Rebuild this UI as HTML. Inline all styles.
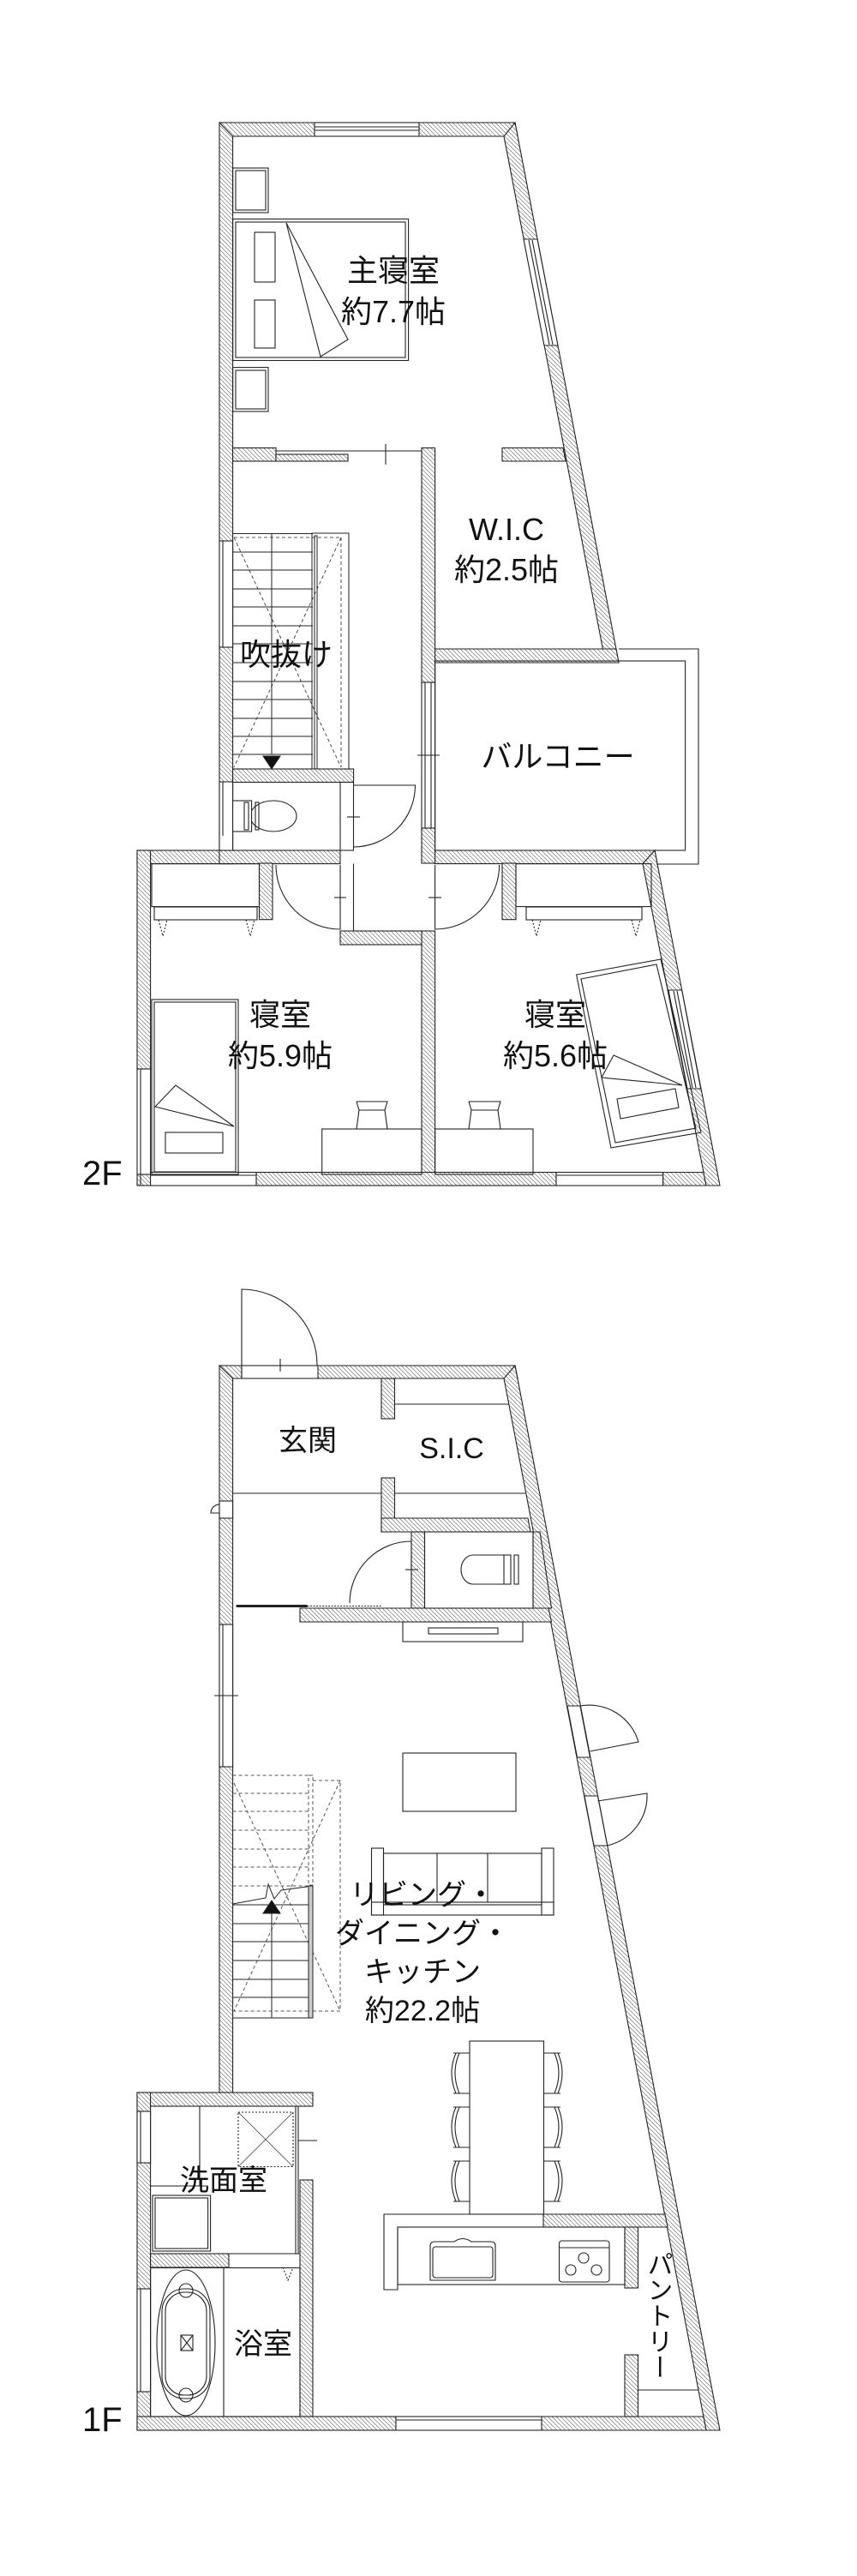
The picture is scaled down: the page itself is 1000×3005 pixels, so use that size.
<!DOCTYPE html>
<html><head><meta charset="utf-8"><style>
html,body{margin:0;padding:0;background:#fff}
svg{display:block}
text{font-family:"Liberation Sans","Noto Sans CJK JP",sans-serif;fill:#111}
</style></head><body>
<svg width="1000" height="3005" viewBox="0 0 1000 3005" xmlns="http://www.w3.org/2000/svg">
<defs>
<pattern id="h" patternUnits="userSpaceOnUse" width="5" height="5">
<rect width="5" height="5" fill="#fff"/>
<path d="M-1,-1 L6,6 M-1,4 L1,6 M4,-1 L6,1" stroke="#777" stroke-width="0.7"/>
</pattern>
</defs>
<g stroke="#222" stroke-width="1.1" fill="none">

<!-- ================= 2F ================= -->
<g fill="url(#h)">
<rect x="256" y="143" width="15.6" height="864"/>
<polygon points="256,143 601,143 604,159 271.6,159"/>
<polygon points="601,143 722,773 706.5,773 588,159"/>
<rect x="271.6" y="522.5" width="50.4" height="15.5"/>
<rect x="322" y="530" width="84" height="8"/>
<polygon points="586,522.5 657,522.5 660,538 586,538"/>
<rect x="492" y="522.5" width="15.6" height="273.5"/>
<rect x="492" y="966" width="15.6" height="41"/>
<rect x="492" y="1086" width="15.6" height="284"/>
<polygon points="507.6,757 719,757 722,773 507.6,773"/>
<rect x="271.6" y="897" width="141" height="15.5"/>
<rect x="160" y="992" width="112" height="15.6"/>
<rect x="256" y="992" width="141" height="15.6"/>
<rect x="302.5" y="1007" width="15.5" height="65.7"/>
<polygon points="507.6,992 764,992 767,1007.6 507.6,1007.6"/>
<rect x="586" y="1007" width="16" height="65.7"/>
<rect x="397" y="1086" width="95" height="16"/>
<rect x="160" y="992" width="15.6" height="255"/>
<rect x="160" y="1370" width="15.6" height="13"/>
<rect x="299" y="1367.5" width="350" height="15.5"/>
<polygon points="773.6,1367.5 821,1367.5 824,1383 773.6,1383"/>
<polygon points="764,992 840,1383 824,1383 750,1007.6"/>
</g>
<!-- windows 2F -->
<rect x="367" y="143" width="122" height="16" fill="#fff"/>
<line x1="367" y1="148" x2="489" y2="148"/><line x1="367" y1="152" x2="489" y2="152"/>
<polygon points="611,279 627,279 651,403 635,403" fill="#fff"/>
<line x1="617" y1="280" x2="641" y2="402"/><line x1="621" y1="280" x2="645" y2="402"/>
<rect x="256" y="631" width="15.6" height="124" fill="#fff"/>
<line x1="260" y1="631" x2="260" y2="755"/>
<rect x="256" y="912" width="15.6" height="80" fill="#fff"/>
<line x1="260" y1="912" x2="260" y2="975"/>
<rect x="492" y="796" width="15.6" height="170" fill="#fff"/>
<line x1="496" y1="796" x2="496" y2="966"/><line x1="503" y1="796" x2="503" y2="966"/>
<line x1="487" y1="881" x2="513" y2="881"/>
<rect x="160" y="1247" width="15.6" height="123" fill="#fff"/>
<line x1="164" y1="1247" x2="164" y2="1383"/>
<rect x="175.6" y="1367.5" width="123.4" height="15.5" fill="#fff"/>
<line x1="175.6" y1="1371" x2="299" y2="1371"/>
<rect x="649" y="1367.5" width="124.6" height="15.5" fill="#fff"/>
<line x1="649" y1="1371" x2="773.6" y2="1371"/>
<polygon points="780,1155 795.6,1155 817.7,1270 802,1270" fill="#fff"/>
<line x1="786" y1="1156" x2="808" y2="1269"/><line x1="790" y1="1156" x2="812" y2="1269"/>
<!-- master sliding door -->
<line x1="322" y1="526" x2="492" y2="526"/>
<line x1="322" y1="530" x2="406" y2="530" stroke-dasharray="3,2"/>
<line x1="450" y1="518" x2="450" y2="542"/>
<!-- furniture master -->
<rect x="271.6" y="196" width="41.4" height="52"/><rect x="275" y="199" width="35" height="46"/>
<rect x="271.6" y="428.6" width="41.4" height="51.4"/><rect x="275" y="432" width="35" height="45"/>
<rect x="271.6" y="255.5" width="205" height="165"/><rect x="275" y="259" width="198" height="158"/>
<rect x="297" y="271" width="24" height="58"/><rect x="297" y="350" width="24" height="56"/>
<polygon points="334,260 374,416 406,396"/>
<!-- stair 2F -->
<g stroke-width="1">
<line x1="271.6" y1="622.5" x2="365" y2="622.5"/>
<line x1="271.6" y1="644" x2="365" y2="644"/><line x1="271.6" y1="665" x2="365" y2="665"/>
<line x1="271.6" y1="687" x2="365" y2="687"/><line x1="271.6" y1="708" x2="365" y2="708"/>
<line x1="271.6" y1="730" x2="365" y2="730"/><line x1="271.6" y1="751" x2="365" y2="751"/>
<line x1="271.6" y1="773" x2="365" y2="773"/><line x1="271.6" y1="795" x2="365" y2="795"/>
<line x1="271.6" y1="816" x2="365" y2="816"/><line x1="271.6" y1="838" x2="365" y2="838"/>
<line x1="271.6" y1="859" x2="365" y2="859"/><line x1="271.6" y1="880" x2="365" y2="880"/>
<rect x="364" y="622" width="43" height="275"/><rect x="367" y="625" width="3" height="272"/>
<line x1="317" y1="622.5" x2="317" y2="880"/>
<polygon points="307,882 327,882 317,897" fill="#111"/>
<g stroke-dasharray="4,3" stroke-width="0.8">
<line x1="273" y1="627" x2="398" y2="627"/><line x1="398" y1="627" x2="398" y2="895"/>
<line x1="273" y1="627" x2="398" y2="895"/><line x1="398" y1="627" x2="273" y2="895"/>
</g>
</g>
<!-- toilet 2F -->
<rect x="397" y="912.5" width="15.5" height="79.5"/>
<ellipse cx="319" cy="952" rx="27" ry="18"/>
<rect x="271.6" y="934" width="22" height="36" fill="#fff"/>
<rect x="285" y="936" width="5" height="32"/><rect x="298" y="936" width="4" height="32"/>
<path d="M412.5,916 L484.5,916 A72,72 0 0 1 412.5,988"/>
<line x1="405" y1="953" x2="420" y2="953"/>
<!-- bedroom doors -->
<path d="M397,1009 L397,1084 A75,75 0 0 1 322,1009"/>
<line x1="390" y1="1047" x2="404" y2="1047"/>
<path d="M507.6,1009 L507.6,1084 A75,75 0 0 0 582.6,1009"/>
<line x1="500" y1="1047" x2="515" y2="1047"/>
<line x1="412.5" y1="1007.6" x2="412.5" y2="1086"/>
<!-- closets -->
<rect x="177" y="1007.6" width="125.5" height="50"/><rect x="180" y="1058" width="120" height="15"/>
<path d="M185,1073 L190,1092 L195,1073 M287,1073 L292,1092 L297,1073" stroke-dasharray="2,2"/>
<rect x="602" y="1007.6" width="158" height="50"/><rect x="614" y="1058" width="135" height="15"/>
<path d="M621,1073 L626,1092 L631,1073 M737,1073 L742,1092 L747,1073" stroke-dasharray="2,2"/>
<!-- beds -->
<rect x="177" y="1166" width="101" height="204"/><rect x="180" y="1169" width="95" height="198"/>
<polygon points="181,1291 205,1266 273,1314"/>
<rect x="193" y="1321" width="67" height="24"/>
<polygon points="672.6,1137 771,1119 818,1321 713,1339"/>
<polygon points="678,1142 766,1125 812,1316 718,1333"/>
<polygon points="702,1257 716,1231 796,1266"/>
<polygon points="720,1282 788,1270 792,1292 724,1305"/>
<!-- desks -->
<rect x="375.7" y="1317" width="116.3" height="53"/>
<path d="M416,1285 L452,1285 L449,1295 L452,1317 M416,1285 L419,1295 L416,1317 M419,1295 L449,1295"/>
<rect x="507.6" y="1317" width="114.4" height="53"/>
<path d="M547,1285 L584,1285 L581,1295 L584,1317 M547,1285 L550,1295 L547,1317 M550,1295 L581,1295"/>
<!-- balcony -->
<rect x="507.6" y="771" width="292" height="221"/>
<polyline points="722,757 815,757 815,1008 766,1008"/>
</g>
<g font-size="36" text-anchor="middle">
<text x="459" y="328">主寝室</text>
<text x="459" y="376">約7.7帖</text>
<text x="591" y="630">W.I.C</text>
<text x="591" y="677">約2.5帖</text>
<text x="334" y="776">吹抜け</text>
<text x="651" y="895">バルコニー</text>
<text x="327" y="1196">寝室</text>
<text x="327" y="1244">約5.9帖</text>
<text x="648" y="1196">寝室</text>
<text x="648" y="1244">約5.6帖</text>
</g>
<text x="96" y="1382" font-size="40">2F</text>

<!-- ================= 1F ================= -->
<g stroke="#222" stroke-width="1.1" fill="none">
<g fill="url(#h)">
<rect x="256" y="1593" width="15.6" height="864"/>
<polygon points="256,1593 601,1593 604,1608 271.6,1608"/>
<polygon points="601,1593 840,2835 824,2835 588,1608"/>
<rect x="445" y="1608" width="15.5" height="47"/>
<rect x="445" y="1724" width="15.5" height="63"/>
<polygon points="445,1771 616,1771 619,1787 445,1787"/>
<rect x="480" y="1787" width="15.5" height="89"/>
<polygon points="622,1787 630,1787 643.5,1876 622,1876"/>
<polygon points="350,1876 640,1876 643.5,1892 350,1892"/>
<rect x="160" y="2441" width="205" height="16"/>
<rect x="160" y="2441" width="15.6" height="394"/>
<rect x="350" y="2543" width="15" height="292"/>
<rect x="175.6" y="2629" width="91.4" height="16"/>
<rect x="160" y="2819" width="302" height="16"/>
<polygon points="632,2819 821,2819 824,2835 632,2835"/>
<polygon points="634,2583 776,2583 779,2598 634,2598"/>
<rect x="729" y="2598" width="15.5" height="71"/>
<rect x="729" y="2747" width="15.5" height="72"/>
</g>
<rect x="282" y="1593" width="89" height="15" fill="#fff"/>
<path d="M282,1608 L282,1504 A88,88 0 0 1 370,1593"/>
<line x1="327" y1="1585" x2="327" y2="1600"/>
<rect x="256" y="1751" width="15.6" height="20" fill="#fff"/>
<path d="M256,1755 A10,10 0 0 0 246,1765 L256,1765"/>
<rect x="256" y="1895" width="15.6" height="166" fill="#fff"/>
<line x1="260" y1="1895" x2="260" y2="2061"/><line x1="250" y1="1978" x2="278" y2="1978"/>
<rect x="160" y="2463" width="15.6" height="60" fill="#fff"/><line x1="164" y1="2463" x2="164" y2="2523"/>
<rect x="160" y="2670" width="15.6" height="120" fill="#fff"/><line x1="164" y1="2670" x2="164" y2="2790"/>
<rect x="462" y="2819" width="170" height="16" fill="#fff"/>
<line x1="462" y1="2823" x2="632" y2="2823"/>
<!-- right wall doors -->
<polygon points="662,1990 677,1990 688.5,2050 673.5,2050" fill="#fff"/>
<path d="M677,1990 A60,60 0 0 1 745,2032 L688.5,2043"/>
<polygon points="682,2095 697.5,2095 708.7,2153 693,2153" fill="#fff"/>
<path d="M697.5,2101 L755,2092 A60,60 0 0 1 708.7,2153"/>
<line x1="460.5" y1="1638" x2="594" y2="1638"/>
<line x1="271.6" y1="1742" x2="445" y2="1742"/>
<line x1="460.5" y1="1742" x2="613" y2="1742"/>
<rect x="495.5" y="1787" width="126.5" height="89"/>
<path d="M480,1870 L480,1798 A72,72 0 0 0 408,1870"/>
<line x1="473" y1="1831" x2="488" y2="1831"/>
<path d="M588,1814 L552,1814 A14,17 0 0 0 552,1848 L588,1848"/>
<rect x="588" y="1814" width="8" height="34"/><rect x="600" y="1814" width="5" height="34"/>
<line x1="275.6" y1="1873.5" x2="358.6" y2="1873.5" stroke-width="3"/>
<line x1="358.6" y1="1873.5" x2="446" y2="1873.5" stroke-dasharray="2,1.5"/>
<rect x="470" y="1892" width="140" height="23"/><rect x="500" y="1899" width="81" height="7"/>
<rect x="470" y="2045" width="132" height="68"/>
<rect x="433.5" y="2156" width="14" height="78"/><rect x="632" y="2156" width="14" height="78"/>
<rect x="447.5" y="2162" width="184.5" height="60"/><rect x="433.5" y="2219" width="212.5" height="15"/>
<line x1="510" y1="2162" x2="510" y2="2219"/><line x1="569" y1="2162" x2="569" y2="2219"/>
<g stroke-width="1">
<g stroke-dasharray="4,3" stroke="#555">
<line x1="271.6" y1="2071" x2="365" y2="2071"/><line x1="271.6" y1="2092" x2="360" y2="2092"/>
<line x1="271.6" y1="2113" x2="360" y2="2113"/><line x1="271.6" y1="2135" x2="360" y2="2135"/>
<line x1="271.6" y1="2157" x2="360" y2="2157"/><line x1="271.6" y1="2178" x2="360" y2="2178"/>
<line x1="271.6" y1="2200" x2="360" y2="2200"/>
<rect x="360" y="2071" width="5" height="128"/>
<rect x="365" y="2077" width="32" height="269"/>
<line x1="273" y1="2080" x2="397" y2="2346"/><line x1="397" y1="2077" x2="273" y2="2346"/>
<line x1="271.6" y1="2346" x2="365" y2="2346"/>
</g>
<polyline points="271.6,2221 310,2214 313,2198 320,2215 328,2205 365,2200"/>
<line x1="271.6" y1="2222" x2="360" y2="2222"/><line x1="271.6" y1="2244" x2="360" y2="2244"/>
<line x1="271.6" y1="2265" x2="360" y2="2265"/><line x1="271.6" y1="2287" x2="360" y2="2287"/>
<line x1="271.6" y1="2309" x2="360" y2="2309"/><line x1="271.6" y1="2330" x2="360" y2="2330"/>
<line x1="271.6" y1="2354" x2="365" y2="2354"/>
<rect x="360" y="2200" width="5" height="154" fill="#ccc"/>
<line x1="317" y1="2354" x2="317" y2="2232"/>
<polygon points="307,2232 327,2232 317,2217" fill="#111"/>
</g>
<rect x="548" y="2381" width="86.5" height="202"/>
<g>
<path d="M548,2395 L529,2395 M548,2442 L529,2442 M532,2395 Q522,2418 532,2442 M536,2395 Q526,2418 536,2442"/>
<path d="M548,2458 L529,2458 M548,2505 L529,2505 M532,2458 Q522,2481 532,2505 M536,2458 Q526,2481 536,2505"/>
<path d="M548,2521 L529,2521 M548,2568 L529,2568 M532,2521 Q522,2544 532,2568 M536,2521 Q526,2544 536,2568"/>
<path d="M634.5,2395 L654,2395 M634.5,2442 L654,2442 M651,2395 Q661,2418 651,2442 M647,2395 Q657,2418 647,2442"/>
<path d="M634.5,2458 L654,2458 M634.5,2505 L654,2505 M651,2458 Q661,2481 651,2505 M647,2458 Q657,2481 647,2505"/>
<path d="M634.5,2521 L654,2521 M634.5,2568 L654,2568 M651,2521 Q661,2544 651,2568 M647,2521 Q657,2544 647,2568"/>
</g>
<polyline points="634,2583 448,2583 448,2671 464,2671 464,2598 634,2598"/>
<rect x="464" y="2598" width="265" height="67"/>
<path d="M502,2620 Q502,2615 507,2615 L530,2615 Q540,2608 550,2615 L573,2615 Q578,2615 578,2620 L578,2660 L502,2660 Z"/>
<rect x="505" y="2621" width="70" height="36" rx="3"/>
<rect x="652.5" y="2614" width="58.5" height="48" rx="3"/>
<line x1="652.5" y1="2622" x2="711" y2="2622"/>
<circle cx="681" cy="2634" r="6"/><circle cx="666" cy="2648" r="6"/><circle cx="696" cy="2648" r="6"/>
<line x1="744.5" y1="2788" x2="815" y2="2788"/>
<line x1="233" y1="2457" x2="233" y2="2550"/>
<line x1="175.6" y1="2550" x2="243" y2="2550"/>
<rect x="178" y="2561" width="67.6" height="65"/><rect x="181" y="2564" width="61.6" height="59"/>
<rect x="278" y="2464" width="64" height="63.5" stroke-dasharray="2,2"/>
<line x1="278" y1="2464" x2="342" y2="2527.5" stroke-width="0.6"/><line x1="342" y1="2464" x2="278" y2="2527.5" stroke-width="0.6"/>
<line x1="345" y1="2457" x2="345" y2="2629"/><line x1="348" y1="2457" x2="348" y2="2629"/>
<line x1="348" y1="2497" x2="370" y2="2497"/>
<line x1="267" y1="2629" x2="350" y2="2629"/>
<path d="M330,2645 L336,2660 L342,2645" stroke-dasharray="2,2"/>
<rect x="175.6" y="2645.5" width="174.4" height="173.5"/>
<line x1="261" y1="2645.5" x2="261" y2="2819"/>
<ellipse cx="217" cy="2733" rx="34" ry="85"/>
<rect x="189" y="2670" width="56" height="128" rx="26"/>
<rect x="193" y="2674" width="48" height="120" rx="22"/>
<circle cx="217" cy="2672" r="8"/><circle cx="217" cy="2794" r="8"/>
<rect x="211" y="2724" width="14" height="18"/><line x1="211" y1="2724" x2="225" y2="2742"/><line x1="225" y1="2724" x2="211" y2="2742"/>
</g>
<g font-size="34" text-anchor="middle">
<text x="359" y="1692">玄関</text>
<text x="527" y="1701">S.I.C</text>
<text x="493" y="2222">リビング・</text>
<text x="493" y="2267">ダイニング・</text>
<text x="493" y="2312">キッチン</text>
<text x="493" y="2357">約22.2帖</text>
<text x="261" y="2555">洗面室</text>
<text x="307" y="2746">浴室</text>
</g>
<text x="767" y="2626" font-size="30" style="writing-mode:vertical-rl">パントリー</text>
<text x="96" y="2836" font-size="40">1F</text>
</svg>
</body></html>
